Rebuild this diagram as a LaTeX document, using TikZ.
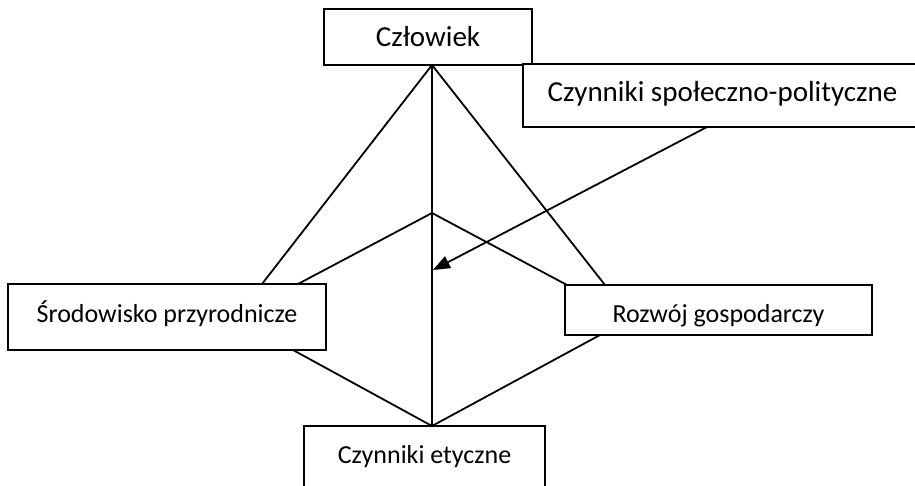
\documentclass[tikz,border=0pt]{standalone}
\usepackage{fontspec}
\setmainfont{Carlito}
\usetikzlibrary{arrows.meta}
\newcommand{\basedown}[2]{\raisebox{-#1}[0pt][0pt]{#2}}
\begin{document}
\begin{tikzpicture}[x=1pt,y=-1pt,
  box/.style={draw=black, line width=1.8pt, fill=white, rectangle, inner sep=0pt, font=\fontsize{26}{30}\selectfont},
  bigbox/.style={box, font=\fontsize{29}{33}\selectfont},
  ln/.style={line width=1.8pt, black},
  arr/.style={line width=1.8pt, black, -{Triangle[length=17pt,width=13pt]}}]
\useasboundingbox (0,0) rectangle (915,486);
% coordinates on the connectors
\coordinate (A) at (432,65);
\coordinate (B) at (432,213);
\coordinate (C) at (432,426);
\coordinate (sl) at (262,284);
\coordinate (si) at (298,284);
\coordinate (sb) at (293,350);
\coordinate (ro) at (605,285);
\coordinate (ri) at (567,285);
\coordinate (rb) at (600,335);
\coordinate (cs) at (707,127);
\coordinate (T) at (433,270);
% connectors
\draw[ln] (A) -- (sl);
\draw[ln] (A) -- (ro);
\draw[ln] (A) -- (C);
\draw[ln] (B) -- (si);
\draw[ln] (B) -- (ri);
\draw[ln] (sb) -- (C);
\draw[ln] (rb) -- (C);
% boxes
\node[bigbox, minimum width=208pt, minimum height=56pt] (cz) at (428,37) {\basedown{10pt}{Człowiek}};
\node[bigbox, minimum width=399pt, minimum height=63pt] (csp) at (722.5,95.5) {\basedown{6.5pt}{Czynniki społeczno-polityczne}};
\node[box, minimum width=318pt, minimum height=66pt] (sr) at (167,317) {\basedown{5pt}{Środowisko przyrodnicze}};
\node[box, minimum width=307pt, minimum height=50pt] (rz) at (718.5,310) {\basedown{12pt}{Rozwój gospodarczy}};
\node[box, minimum width=241pt, minimum height=66pt] (et) at (424.5,459) {};
\node[font=\fontsize{26}{30}\selectfont, inner sep=0pt, anchor=base] (ett) at (424.5,463) {Czynniki etyczne};
\draw[arr] (cs) -- (T);
\end{tikzpicture}
\end{document}
